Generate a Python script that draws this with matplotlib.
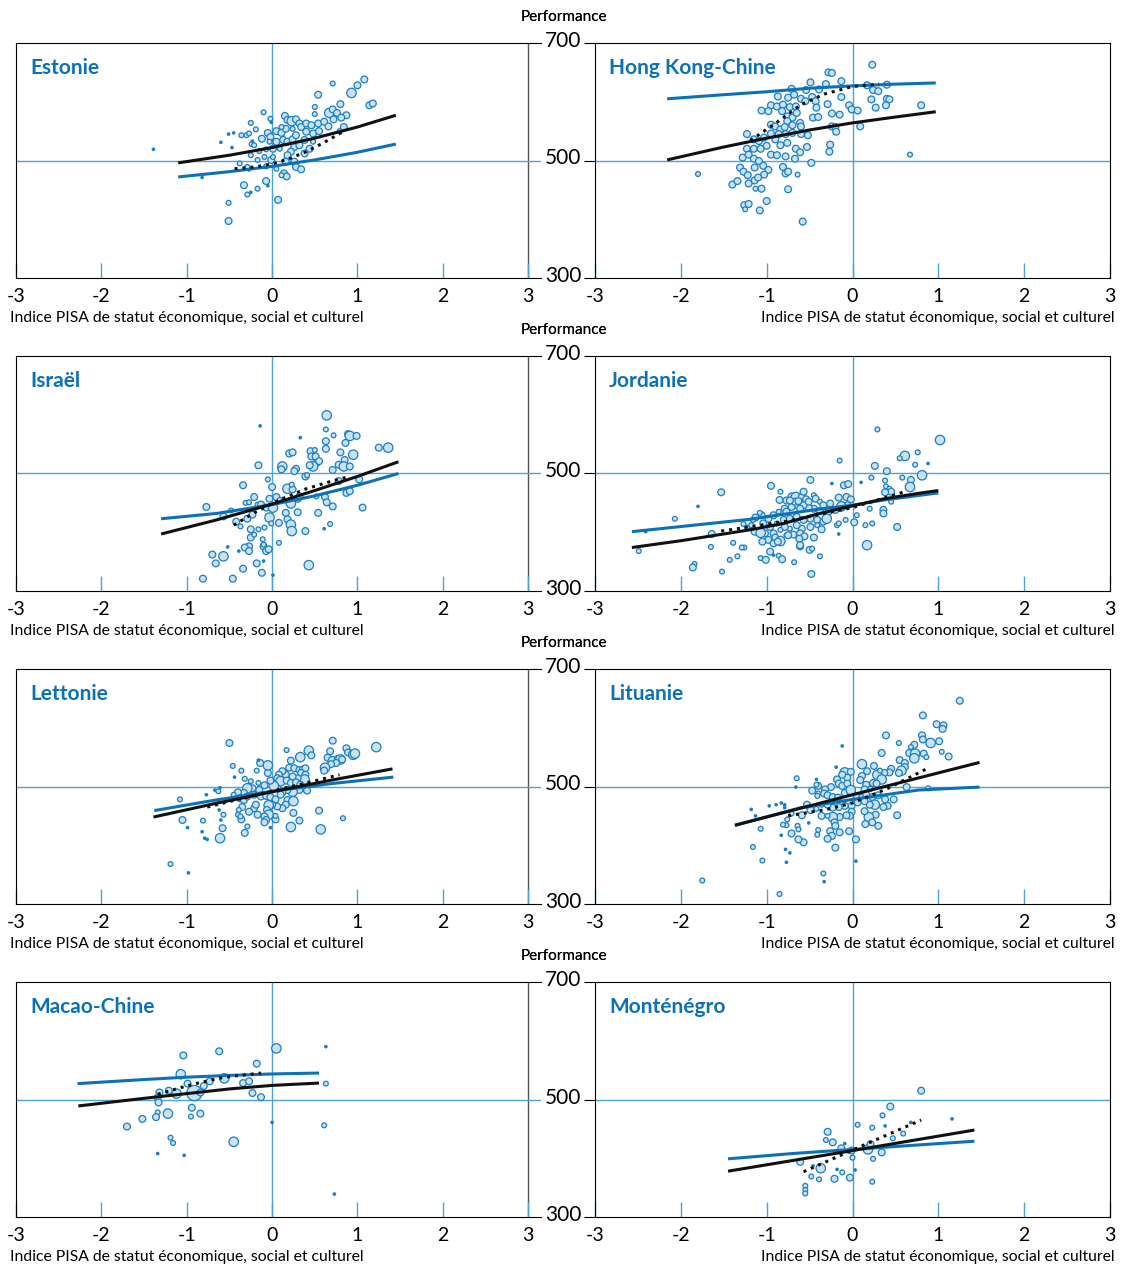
import matplotlib
matplotlib.use("Agg")
import matplotlib.pyplot as plt
from matplotlib.transforms import ScaledTranslation

plt.rcParams["font.family"] = ["Lato", "DejaVu Sans"]
plt.rcParams["axes.unicode_minus"] = False

# points: (indice SESC, performance, poids de l'école 1..5)
est_pts = [
    (-1.39, 519, 1), (-0.60, 531, 1), (-0.51, 545, 1), (-0.45, 547, 1), (-0.47, 522, 1), (-0.82, 471, 1),
    (-0.51, 428, 2), (-0.51, 397, 3), (-0.33, 458, 3), (-0.29, 442, 2), (-0.25, 446, 1), (-0.17, 452, 2),
    (-0.07, 465, 3), (0.07, 433, 3), (-0.05, 457, 1), (-0.36, 543, 2), (-0.30, 543, 2), (-0.27, 546, 2),
    (-0.25, 564, 2), (-0.19, 553, 2), (-0.10, 582, 2), (-0.12, 537, 3), (-0.02, 571, 2), (-0.01, 565, 1),
    (-0.05, 547, 3), (-0.02, 540, 3), (0.05, 550, 3), (0.11, 547, 3), (0.01, 520, 3), (-0.07, 519, 2),
    (-0.15, 516, 2), (-0.24, 528, 2), (-0.21, 526, 2), (-0.23, 533, 1), (-0.25, 509, 2), (-0.17, 501, 2),
    (-0.38, 495, 2), (-0.29, 489, 2), (-0.27, 484, 1), (0.15, 576, 3), (0.18, 569, 3), (0.23, 567, 4),
    (0.28, 570, 3), (0.32, 563, 3), (0.34, 557, 3), (0.24, 554, 2), (0.16, 554, 3), (0.11, 557, 2),
    (0.05, 532, 3), (0.13, 535, 3), (0.18, 532, 3), (0.24, 536, 3), (0.28, 543, 3), (0.26, 523, 3),
    (0.32, 526, 3), (0.22, 515, 3), (0.18, 509, 3), (0.16, 498, 3), (0.26, 498, 3), (0.28, 489, 3),
    (0.34, 485, 3), (0.14, 478, 3), (0.17, 473, 3), (0.11, 475, 2), (0.05, 486, 2), (-0.01, 501, 3),
    (-0.07, 490, 2), (-0.09, 506, 2), (0.40, 563, 3), (0.46, 560, 3), (0.54, 563, 3), (0.61, 566, 3),
    (0.48, 546, 3), (0.55, 550, 3), (0.40, 549, 3), (0.38, 535, 3), (0.44, 520, 3), (0.38, 512, 3),
    (0.48, 532, 2), (0.50, 591, 2), (0.50, 579, 2), (0.54, 612, 3), (0.67, 581, 4), (0.71, 587, 3),
    (0.76, 581, 3), (0.80, 596, 3), (0.87, 577, 3), (0.72, 570, 3), (0.81, 573, 3), (0.66, 558, 3),
    (0.84, 557, 3), (0.79, 550, 2), (0.71, 631, 2), (0.93, 615, 4), (1.00, 628, 3), (1.08, 638, 3),
    (1.14, 594, 3), (1.18, 597, 3), (0.01, 506, 2), (-0.03, 532, 2), (0.09, 520, 2),
]
est_noir = [(-1.1, 496), (-0.5, 509), (0.0, 522), (0.5, 538), (1.0, 557), (1.45, 577)]
est_bleu = [(-1.1, 472), (-0.5, 481), (0.0, 490), (0.5, 501), (1.0, 514), (1.45, 528)]
est_tirets = [(-0.44, 486), (-0.2, 489), (0.0, 494), (0.2, 503), (0.4, 515), (0.6, 530), (0.83, 549)]

hk_pts = [
    (0.23, 663, 3), (-0.28, 650, 3), (-0.24, 649, 3), (-0.49, 633, 3), (-0.31, 630, 3), (-0.13, 635, 3),
    (0.17, 628, 3), (0.40, 629, 3), (-0.71, 622, 3), (-0.54, 620, 3), (-0.39, 621, 3), (0.24, 620, 3),
    (0.30, 618, 3), (-0.87, 609, 3), (-0.75, 607, 3), (-0.68, 612, 3), (-0.60, 605, 3), (-0.47, 608, 3),
    (-0.13, 608, 3), (0.22, 604, 3), (0.40, 605, 3), (0.43, 604, 3), (-0.95, 594, 3), (-0.88, 592, 3),
    (-0.81, 595, 3), (-0.73, 591, 3), (-0.66, 592, 3), (-0.55, 601, 3), (-0.43, 601, 3), (-0.42, 590, 3),
    (-0.29, 596, 3), (-0.04, 594, 3), (-0.01, 587, 3), (0.06, 585, 3), (0.27, 590, 3), (0.39, 594, 3),
    (0.80, 594, 3), (-1.06, 585, 3), (-0.98, 584, 3), (-0.82, 584, 3), (-0.76, 575, 3), (-0.70, 573, 3),
    (-0.76, 567, 3), (-0.65, 581, 3), (-0.46, 573, 3), (-0.40, 574, 3), (-0.24, 580, 3), (-0.15, 578, 3),
    (-0.95, 561, 3), (-0.90, 558, 3), (-0.84, 553, 3), (-0.79, 557, 3), (-0.70, 560, 3), (-0.61, 564, 3),
    (-0.60, 558, 3), (-0.24, 558, 3), (-0.20, 557, 3), (-0.19, 549, 3), (0.09, 558, 3), (-1.23, 545, 3),
    (-0.95, 546, 3), (-0.86, 545, 3), (-0.78, 545, 3), (-0.70, 547, 3), (-0.60, 545, 3), (-0.52, 543, 3),
    (-1.15, 536, 3), (-1.09, 533, 3), (-1.03, 539, 3), (-0.90, 536, 3), (-1.23, 520, 3), (-1.15, 520, 3),
    (-1.07, 520, 3), (-1.00, 525, 3), (-0.84, 526, 3), (-0.76, 530, 3), (-0.66, 520, 3), (-0.61, 514, 3),
    (-0.53, 523, 3), (-0.26, 527, 3), (-0.27, 515, 3), (-1.28, 505, 3), (-1.21, 510, 3), (-1.15, 503, 3),
    (-1.09, 499, 3), (-0.95, 510, 3), (-0.88, 509, 3), (-0.78, 507, 3), (-0.67, 503, 3), (-0.48, 496, 3),
    (0.67, 510, 2), (-1.80, 477, 2), (-1.31, 488, 3), (-1.27, 481, 3), (-1.22, 475, 3), (-1.14, 488, 3),
    (-1.04, 491, 3), (-0.98, 484, 3), (-1.03, 476, 3), (-0.81, 489, 3), (-0.78, 478, 3), (-0.75, 481, 3),
    (-0.64, 476, 2), (-1.40, 459, 3), (-1.34, 465, 3), (-1.21, 461, 3), (-1.14, 466, 3), (-1.10, 471, 3),
    (-1.13, 452, 2), (-1.06, 452, 3), (-0.75, 451, 3), (-1.26, 424, 3), (-1.21, 426, 3), (-1.25, 417, 2),
    (-1.08, 415, 3), (-1.00, 431, 3), (-0.58, 396, 3),
]
hk_noir = [(-2.16, 501), (-1.5, 523), (-1.0, 538), (-0.5, 552), (0.0, 564), (0.5, 574), (0.97, 583)]
hk_bleu = [(-2.16, 605), (-1.5, 612), (-1.0, 617), (-0.5, 623), (0.0, 627), (0.5, 630), (0.97, 632)]
hk_tirets = [(-1.19, 534), (-0.91, 562), (-0.60, 595), (-0.33, 613), (0.0, 626), (0.31, 630)]

isr_pts = [
    (0.64, 599, 4), (-0.14, 581, 1), (0.63, 575, 2), (0.33, 561, 1), (0.72, 565, 2), (0.89, 567, 3),
    (0.91, 564, 4), (0.99, 564, 3), (0.63, 555, 3), (0.86, 552, 3), (0.63, 542, 3), (1.25, 544, 3),
    (1.36, 544, 4), (0.20, 534, 3), (0.24, 536, 3), (0.45, 538, 3), (0.50, 540, 2), (0.46, 529, 3),
    (0.51, 529, 3), (0.80, 536, 3), (0.95, 532, 4), (0.85, 523, 3), (0.78, 515, 3), (0.84, 512, 4),
    (0.91, 512, 3), (0.52, 518, 3), (0.55, 521, 3), (0.48, 512, 4), (0.44, 514, 3), (-0.16, 514, 3),
    (0.12, 512, 4), (0.11, 507, 3), (0.28, 508, 3), (0.26, 504, 3), (0.71, 506, 3), (0.39, 495, 3),
    (-0.05, 490, 2), (1.02, 490, 3), (-0.34, 480, 3), (0.00, 477, 3), (0.18, 474, 4), (0.24, 473, 3),
    (0.23, 481, 2), (0.41, 497, 2), (0.52, 461, 2), (0.62, 460, 3), (0.64, 451, 3), (0.71, 444, 3),
    (0.87, 467, 3), (0.91, 470, 3), (0.78, 487, 3), (1.06, 442, 3), (-0.21, 460, 3), (-0.31, 450, 2),
    (-0.27, 451, 2), (-0.17, 447, 2), (-0.13, 447, 3), (-0.03, 457, 3), (0.05, 460, 3), (0.09, 455, 2),
    (0.22, 449, 4), (0.30, 457, 3), (0.32, 461, 3), (-0.77, 443, 3), (-0.57, 427, 3), (-0.48, 437, 2),
    (-0.42, 418, 3), (-0.37, 410, 2), (-0.29, 423, 3), (-0.23, 430, 3), (-0.07, 442, 3), (0.01, 442, 4),
    (-0.03, 425, 4), (-0.01, 415, 2), (0.08, 416, 3), (0.16, 433, 3), (0.18, 422, 3), (0.22, 413, 4),
    (0.23, 402, 4), (0.30, 434, 3), (0.54, 433, 3), (0.39, 402, 3), (-0.25, 405, 3), (-0.25, 391, 3),
    (-0.21, 396, 2), (-0.16, 405, 2), (-0.09, 408, 2), (-0.11, 388, 2), (-0.27, 376, 3), (-0.32, 374, 3),
    (-0.27, 368, 3), (-0.10, 376, 3), (-0.07, 368, 3), (-0.04, 371, 3), (-0.10, 379, 2), (0.08, 382, 2),
    (-0.52, 375, 1), (-0.39, 368, 1), (-0.70, 362, 3), (-0.57, 359, 4), (-0.66, 347, 3), (-0.18, 347, 3),
    (-0.34, 338, 3), (-0.12, 331, 3), (-0.10, 351, 1), (-0.81, 321, 3), (-0.46, 321, 3), (0.01, 327, 1),
    (0.43, 344, 4), (0.61, 406, 1), (0.68, 414, 2),
]
isr_noir = [(-1.3, 397), (-0.65, 421), (0.0, 448), (0.5, 471), (1.0, 495), (1.48, 520)]
isr_bleu = [(-1.3, 423), (-0.65, 432), (0.0, 447), (0.5, 462), (1.0, 480), (1.48, 500)]
isr_tirets = [(-0.45, 412), (-0.2, 434), (0.1, 456), (0.4, 474), (0.7, 487), (0.91, 495)]

jor_pts = [
    (0.29, 575, 2), (1.02, 557, 4), (-0.15, 522, 2), (0.61, 530, 4), (0.55, 526, 2), (0.76, 536, 2),
    (0.26, 513, 3), (0.73, 515, 2), (0.88, 517, 1), (0.40, 504, 3), (0.22, 493, 2), (0.58, 493, 2),
    (0.81, 497, 4), (0.68, 489, 3), (0.67, 477, 4), (-0.49, 489, 3), (-0.24, 483, 1), (-0.10, 480, 3),
    (-0.05, 482, 3), (0.10, 485, 1), (0.38, 488, 2), (0.39, 478, 2), (0.43, 474, 2), (0.45, 469, 3),
    (0.38, 468, 3), (-1.53, 468, 3), (-0.95, 479, 3), (-0.84, 469, 2), (-1.80, 444, 1), (-2.07, 423, 2),
    (-2.41, 401, 1), (-2.49, 368, 2), (-1.64, 397, 3), (-1.39, 382, 2), (-1.26, 374, 2), (-1.29, 374, 2),
    (-1.65, 375, 2), (-1.34, 359, 2), (-1.43, 353, 2), (-1.07, 356, 2), (-1.01, 353, 3), (-0.96, 367, 3),
    (-0.92, 361, 1), (-0.86, 360, 2), (-0.82, 354, 3), (-0.68, 349, 2), (-0.38, 359, 2), (-0.50, 370, 3),
    (-0.47, 372, 2), (-0.61, 376, 3), (-1.84, 346, 2), (-1.86, 340, 3), (-1.52, 333, 2), (-0.48, 329, 3),
    (0.17, 378, 4), (-0.16, 397, 1), (0.02, 417, 3), (0.15, 412, 2), (0.23, 415, 2), (0.52, 409, 3),
    (0.36, 438, 3), (0.36, 432, 3), (0.45, 452, 2), (0.20, 440, 2), (0.05, 429, 2), (-0.08, 421, 2),
    (-0.18, 412, 2), (-0.16, 415, 2), (-0.85, 455, 3), (-0.77, 454, 3), (-0.71, 461, 3), (-0.66, 460, 4),
    (-0.59, 460, 3), (-0.54, 456, 3), (-0.45, 463, 2), (-0.43, 457, 3), (-0.38, 452, 2), (-0.34, 446, 3),
    (-0.26, 449, 3), (-0.16, 459, 3), (-0.07, 460, 3), (-0.02, 456, 3), (-0.06, 446, 3), (-0.13, 444, 4),
    (-0.20, 438, 3), (-0.28, 435, 3), (-0.38, 436, 3), (-0.45, 440, 3), (-0.51, 442, 3), (-0.57, 446, 3),
    (-0.65, 446, 3), (-0.71, 443, 3), (-0.79, 440, 3), (-0.86, 435, 2), (-0.92, 429, 3), (-0.98, 423, 3),
    (-1.06, 429, 3), (-1.08, 433, 2), (-1.13, 425, 3), (-1.16, 421, 2), (-1.04, 415, 3), (-0.96, 409, 3),
    (-0.88, 415, 2), (-0.80, 421, 3), (-0.73, 423, 3), (-0.65, 426, 3), (-0.57, 421, 3), (-0.49, 423, 3),
    (-0.41, 421, 3), (-0.34, 418, 3), (-0.30, 423, 4), (-0.41, 412, 2), (-0.49, 409, 3), (-0.59, 406, 3),
    (-0.65, 412, 3), (-0.73, 406, 2), (-0.79, 409, 3), (-0.84, 404, 2), (-0.92, 398, 3), (-1.02, 398, 3),
    (-1.10, 398, 2), (-1.14, 401, 3), (-1.07, 399, 4), (-1.18, 412, 2), (-1.23, 408, 2), (-1.27, 414, 2),
    (-0.98, 387, 3), (-0.90, 391, 3), (-0.84, 385, 4), (-0.77, 395, 2), (-0.69, 396, 3), (-0.61, 398, 3),
    (-0.56, 393, 3), (-0.62, 389, 3), (-0.45, 391, 3), (-0.36, 405, 3), (-1.05, 384, 3), (-0.92, 381, 3),
    (-0.87, 384, 3), (-0.61, 378, 3), (-0.75, 395, 3), (-0.67, 452, 3), (-0.61, 440, 3), (-0.51, 452, 3),
    (-0.57, 469, 3), (-0.63, 453, 3), (-0.77, 435, 3), (-0.73, 454, 3),
]
jor_noir = [(-2.57, 374), (-1.98, 386), (-1.59, 395), (-1.2, 404), (-0.8, 415), (-0.41, 431),
            (0.0, 445), (0.37, 457), (0.76, 466), (1.0, 471)]
jor_bleu = [(-2.57, 401), (-1.98, 410), (-1.2, 422), (-0.41, 439), (0.0, 446), (0.37, 455), (1.0, 467)]
jor_tirets = [(-1.53, 402), (-0.8, 418), (0.0, 442), (0.61, 469)]

let_pts = [
    (-0.50, 574, 3), (0.17, 562, 2), (0.71, 578, 3), (0.87, 565, 3), (0.89, 558, 3), (1.22, 567, 4),
    (0.95, 554, 4), (0.97, 556, 4), (0.43, 561, 4), (0.46, 553, 3), (0.68, 560, 3), (0.65, 549, 3),
    (0.33, 550, 4), (0.22, 544, 3), (0.71, 543, 4), (0.77, 547, 3), (0.80, 546, 4), (0.82, 546, 3),
    (0.75, 540, 3), (0.69, 538, 3), (0.62, 532, 4), (0.61, 527, 3), (0.20, 532, 3), (0.26, 531, 3),
    (0.32, 528, 3), (0.36, 529, 3), (0.39, 531, 3), (0.34, 523, 3), (0.39, 520, 3), (0.38, 512, 4),
    (0.30, 514, 3), (0.24, 517, 3), (0.16, 520, 3), (0.12, 526, 3), (0.08, 520, 3), (0.06, 514, 3),
    (0.10, 509, 4), (0.17, 510, 3), (0.22, 506, 3), (0.28, 507, 3), (0.33, 503, 3), (0.38, 497, 3),
    (0.41, 493, 3), (0.32, 494, 3), (0.24, 491, 4), (0.18, 494, 3), (0.12, 490, 3), (0.06, 497, 3),
    (0.02, 501, 4), (-0.02, 510, 3), (-0.05, 523, 3), (-0.05, 536, 4), (-0.14, 540, 3), (-0.16, 545, 1),
    (-0.18, 527, 2), (-0.36, 527, 2), (-0.46, 535, 2), (-0.44, 516, 1), (-0.32, 513, 2), (-0.25, 509, 2),
    (-0.16, 506, 2), (-0.09, 502, 3), (-0.15, 494, 3), (-0.23, 497, 3), (-0.29, 497, 4), (-0.33, 489, 3),
    (-0.40, 490, 3), (-0.45, 486, 2), (-0.38, 480, 3), (-0.33, 477, 3), (-0.29, 483, 3), (-0.21, 486, 3),
    (-0.13, 483, 3), (-0.07, 484, 3), (-0.02, 482, 3), (0.04, 478, 3), (0.10, 486, 3), (0.18, 477, 3),
    (0.25, 475, 4), (0.16, 469, 3), (0.12, 463, 3), (0.06, 466, 3), (0.00, 469, 3), (-0.04, 468, 4),
    (-0.06, 460, 3), (-0.04, 452, 4), (-0.09, 449, 3), (-0.17, 452, 3), (-0.21, 463, 3), (-0.19, 469, 3),
    (-0.27, 457, 3), (-0.35, 465, 3), (-0.39, 460, 2), (-0.40, 452, 2), (-0.36, 444, 3), (-0.37, 449, 2),
    (-0.07, 443, 3), (0.04, 444, 3), (0.04, 450, 2), (0.25, 455, 3), (0.32, 442, 3), (0.55, 459, 3),
    (0.83, 446, 2), (0.57, 427, 4), (0.22, 431, 4), (-0.29, 432, 2), (-0.32, 421, 3), (-0.58, 429, 3),
    (-0.61, 412, 4), (-0.81, 442, 2), (-0.82, 423, 1), (-0.76, 410, 1), (-0.79, 412, 1), (-0.99, 430, 1),
    (-1.05, 443, 3), (-1.08, 478, 2), (-0.77, 486, 1), (-0.67, 494, 1), (-0.63, 492, 2), (-0.61, 498, 1),
    (-0.62, 474, 1), (-0.57, 452, 2), (-0.60, 443, 1), (-0.62, 460, 1), (-1.19, 368, 2), (-0.98, 353, 1),
    (-0.02, 430, 1), (-0.09, 439, 3),
]
let_noir = [(-1.39, 448), (-0.7, 470), (0.0, 491), (0.7, 511), (1.41, 530)]
let_bleu = [(-1.38, 459), (-0.7, 476), (0.0, 492), (0.7, 505), (1.42, 516)]
let_tirets = [(-0.76, 465), (-0.4, 478), (0.0, 492), (0.4, 506), (0.79, 520)]

lit_pts = [
    (1.25, 646, 3), (0.82, 621, 3), (0.98, 606, 3), (1.06, 604, 3), (1.05, 598, 3), (0.39, 587, 3),
    (0.54, 574, 2), (0.81, 587, 3), (0.82, 580, 3), (0.91, 574, 4), (1.01, 577, 3), (0.72, 571, 3),
    (0.68, 567, 2), (0.34, 557, 3), (0.66, 557, 3), (0.73, 556, 4), (0.83, 556, 3), (0.86, 550, 2),
    (1.04, 559, 2), (1.12, 551, 3), (0.72, 548, 4), (0.55, 545, 3), (0.61, 540, 3), (0.61, 533, 3),
    (0.57, 527, 4), (0.54, 523, 3), (0.45, 530, 3), (0.43, 524, 3), (0.37, 523, 3), (0.29, 520, 4),
    (0.25, 535, 3), (0.17, 526, 3), (0.11, 538, 4), (0.32, 527, 2), (0.34, 512, 4), (0.24, 506, 3),
    (0.28, 505, 3), (0.16, 503, 3), (0.11, 518, 3), (0.09, 511, 3), (0.14, 495, 3), (0.21, 496, 2),
    (-0.09, 524, 4), (-0.02, 525, 3), (-0.06, 515, 3), (-0.12, 520, 3), (-0.18, 512, 3), (-0.16, 505, 3),
    (-0.12, 501, 3), (-0.06, 505, 3), (-0.19, 533, 1), (-0.12, 569, 1), (-0.25, 499, 3), (-0.32, 495, 3),
    (-0.40, 501, 3), (-0.42, 503, 2), (-0.47, 493, 3), (-0.40, 488, 2), (-0.41, 484, 2), (-0.33, 488, 3),
    (-0.29, 485, 3), (-0.23, 482, 3), (-0.17, 481, 3), (-0.09, 489, 3), (-0.02, 494, 4), (0.05, 484, 3),
    (0.11, 481, 3), (0.16, 486, 3), (0.23, 482, 3), (0.30, 485, 3), (0.38, 478, 3), (0.48, 478, 3),
    (0.41, 467, 3), (0.36, 465, 3), (0.26, 469, 4), (0.20, 469, 3), (0.14, 475, 3), (0.06, 473, 3),
    (-0.01, 467, 3), (-0.09, 467, 3), (-0.16, 465, 3), (-0.23, 464, 3), (-0.29, 469, 3), (-0.36, 469, 2),
    (-0.42, 462, 2), (-0.49, 460, 3), (-0.53, 469, 3), (-0.59, 451, 3), (-0.71, 454, 2), (-0.65, 514, 2),
    (-0.66, 499, 1), (-0.42, 512, 1), (0.63, 499, 3), (0.88, 497, 2), (0.52, 451, 3), (0.27, 452, 3),
    (0.19, 448, 4), (0.23, 439, 3), (0.30, 433, 3), (0.15, 436, 3), (0.14, 458, 3), (-0.01, 457, 3),
    (-0.03, 450, 3), (-0.07, 451, 3), (-0.15, 448, 3), (-0.23, 448, 4), (-0.29, 450, 2), (-0.36, 450, 3),
    (-0.21, 439, 3), (-0.20, 433, 3), (-0.26, 424, 3), (-0.24, 416, 3), (-0.29, 411, 3), (-0.15, 422, 3),
    (-0.04, 424, 3), (0.04, 410, 3), (-0.20, 396, 3), (-0.40, 426, 2), (-0.41, 418, 2), (-0.57, 405, 3),
    (-0.63, 410, 3), (-0.71, 420, 3), (-0.77, 434, 2), (-0.81, 435, 2), (-0.64, 433, 2), (-0.63, 427, 2),
    (-0.51, 438, 1), (-0.76, 444, 2), (-0.83, 417, 1), (-1.07, 428, 2), (-1.16, 397, 2), (-1.05, 374, 2),
    (-0.78, 393, 1), (-0.73, 387, 1), (-0.77, 371, 1), (-0.34, 352, 2), (-0.33, 338, 1), (-0.85, 317, 2),
    (0.04, 373, 1), (-1.18, 461, 1), (-0.97, 467, 1), (-0.89, 469, 1), (-0.83, 472, 1), (-0.79, 469, 1),
    (-0.79, 464, 1), (-1.13, 450, 1), (-1.75, 340, 2),
]
lit_noir = [(-1.37, 434), (0.0, 486), (1.48, 541)]
lit_bleu = [(-1.37, 434), (-0.6, 464), (0.0, 478), (0.77, 494), (1.48, 499)]
lit_tirets = [(-0.75, 450), (-0.3, 461), (0.0, 472), (0.4, 496), (0.89, 532)]

mac_pts = [
    (0.05, 587, 4), (-0.62, 582, 3), (-1.04, 575, 3), (0.63, 590, 1), (-0.18, 561, 3), (-1.07, 543, 4),
    (-0.56, 536, 4), (-0.73, 531, 3), (-0.99, 527, 3), (-0.80, 523, 3), (-0.91, 511, 5), (-0.84, 512, 3),
    (-1.12, 510, 4), (-1.21, 515, 3), (-1.32, 512, 3), (-1.34, 503, 3), (-1.33, 495, 3), (-0.34, 528, 3),
    (-0.27, 531, 3), (-0.23, 511, 3), (-0.13, 504, 3), (0.63, 527, 2), (-0.94, 486, 3), (-0.84, 476, 3),
    (-1.22, 476, 4), (-1.34, 478, 2), (-1.36, 470, 3), (-0.95, 471, 2), (-1.52, 467, 3), (-1.70, 454, 3),
    (0.00, 461, 1), (0.61, 456, 2), (-1.19, 435, 2), (-1.16, 426, 2), (-0.45, 428, 4), (-1.34, 408, 1),
    (-1.03, 405, 1), (0.73, 339, 1),
]
mac_noir = [(-2.27, 489), (-1.5, 502), (-1.0, 510), (-0.5, 518), (0.0, 524), (0.55, 528)]
mac_bleu = [(-2.28, 527), (-1.5, 534), (-1.0, 538), (-0.5, 541), (0.0, 543.5), (0.55, 545)]
mac_tirets = [(-1.34, 509), (-1.1, 519), (-0.9, 527), (-0.56, 538), (-0.13, 545)]

mon_pts = [
    (0.80, 515, 3), (0.44, 488, 3), (0.35, 473, 2), (0.06, 457, 2), (0.23, 452, 2), (0.38, 455, 1),
    (0.59, 442, 2), (0.68, 461, 1), (0.47, 434, 2), (1.16, 467, 1), (-0.29, 445, 3), (-0.31, 431, 2),
    (-0.23, 427, 3), (-0.09, 425, 1), (-0.13, 417, 3), (-0.01, 413, 3), (0.18, 415, 4), (0.21, 424, 3),
    (0.34, 410, 3), (0.00, 401, 2), (0.24, 399, 2), (-0.61, 394, 3), (-0.37, 383, 4), (-0.48, 369, 2),
    (-0.39, 364, 2), (-0.21, 365, 3), (-0.12, 376, 2), (-0.18, 381, 1), (0.03, 380, 1), (-0.03, 367, 3),
    (0.23, 360, 2), (-0.55, 353, 2), (-0.55, 346, 2), (-0.55, 340, 2), (-0.46, 387, 1),
]
mon_noir = [(-1.45, 378), (0.0, 413), (1.42, 448)]
mon_bleu = [(-1.45, 399), (-0.7, 408), (0.0, 415), (0.7, 422), (1.42, 429)]
mon_tirets = [(-0.57, 377), (0.0, 414), (0.8, 465)]

pays = ["Estonie", "Hong Kong-Chine", "Israël", "Jordanie",
        "Lettonie", "Lituanie", "Macao-Chine", "Monténégro"]
points = [est_pts, hk_pts, isr_pts, jor_pts, let_pts, lit_pts, mac_pts, mon_pts]
noirs = [est_noir, hk_noir, isr_noir, jor_noir, let_noir, lit_noir, mac_noir, mon_noir]
bleus = [est_bleu, hk_bleu, isr_bleu, jor_bleu, let_bleu, lit_bleu, mac_bleu, mon_bleu]
tirets = [est_tirets, hk_tirets, isr_tirets, jor_tirets, let_tirets, lit_tirets, mac_tirets, mon_tirets]

BLEU = "#0b72b7"
BLEU_REF = "#4ea3d8"
FOND = "#c8e2f4"
BORD = "#1b7fc2"
taille = {1: 3, 2: 12, 3: 24, 4: 46, 5: 120}

W, H = 1121, 1264
tops = [43, 356, 669, 982]
ph = 235

fig = plt.figure(figsize=(W / 100, H / 100), dpi=100)
monte = ScaledTranslation(0, 4 / 100, fig.dpi_scale_trans)

for i in range(8):
    row, col = divmod(i, 2)
    top = tops[row]
    if col == 0:
        ax = fig.add_axes([16 / W, 1 - (top + ph) / H, (541 - 16) / W, ph / H])
        ax.set_xlim(-3, 3.15)
        ax.spines["right"].set_visible(False)
        ax.axvline(3, color="#555555", lw=1, zorder=1)
        ax.set_yticks([])
    else:
        ax = fig.add_axes([595 / W, 1 - (top + ph) / H, (1110 - 595) / W, ph / H])
        ax.set_xlim(-3, 3)
        ax.set_yticks([300, 500, 700])
        ax.tick_params(axis="y", direction="out", length=8, width=0.8, labelsize=15, pad=2)
        for t in ax.get_yticklabels():
            t.set_transform(t.get_transform() + monte)
    ax.set_ylim(300, 700)
    for s in ax.spines.values():
        s.set_linewidth(0.8)
    ax.set_xticks([-3, -2, -1, 0, 1, 2, 3])
    ax.tick_params(axis="x", direction="in", length=11, width=1, color=BLEU_REF,
                   labelsize=14, pad=7)

    ax.axhline(500, color=BLEU_REF, lw=1, zorder=1)
    ax.axvline(0, color=BLEU_REF, lw=1, zorder=1)

    xs = [p[0] for p in points[i]]
    ys = [p[1] for p in points[i]]
    ss = [taille[p[2]] for p in points[i]]
    fc = [BORD if p[2] == 1 else FOND for p in points[i]]
    ax.scatter(xs, ys, s=ss, facecolors=fc, edgecolors=BORD, linewidths=0.9, zorder=2)

    ax.plot([p[0] for p in bleus[i]], [p[1] for p in bleus[i]], color=BLEU, lw=2.2,
            solid_capstyle="butt", zorder=3)
    ax.plot([p[0] for p in noirs[i]], [p[1] for p in noirs[i]], color="#111111", lw=2.2,
            solid_capstyle="butt", zorder=4)
    ax.plot([p[0] for p in tirets[i]], [p[1] for p in tirets[i]], color="#111111", lw=2.2,
            linestyle=(0, (1, 1.6)), zorder=5)

    ax.annotate(pays[i], xy=(0, 1), xycoords="axes fraction", xytext=(10, -11),
                textcoords="offset points", ha="left", va="top", fontsize=15,
                fontweight="bold", color=BLEU)

    fig.text(564 / W, 1 - (top - 26) / H, "Performance", ha="center", va="center", fontsize=11)
    lab = "Indice PISA de statut économique, social et culturel"
    if col == 0:
        fig.text(10 / W, 1 - (top + ph + 40) / H, lab, ha="left", va="center", fontsize=11.3)
    else:
        fig.text(1115 / W, 1 - (top + ph + 40) / H, lab, ha="right", va="center", fontsize=11.3)

fig.savefig("out.png", dpi=100)
